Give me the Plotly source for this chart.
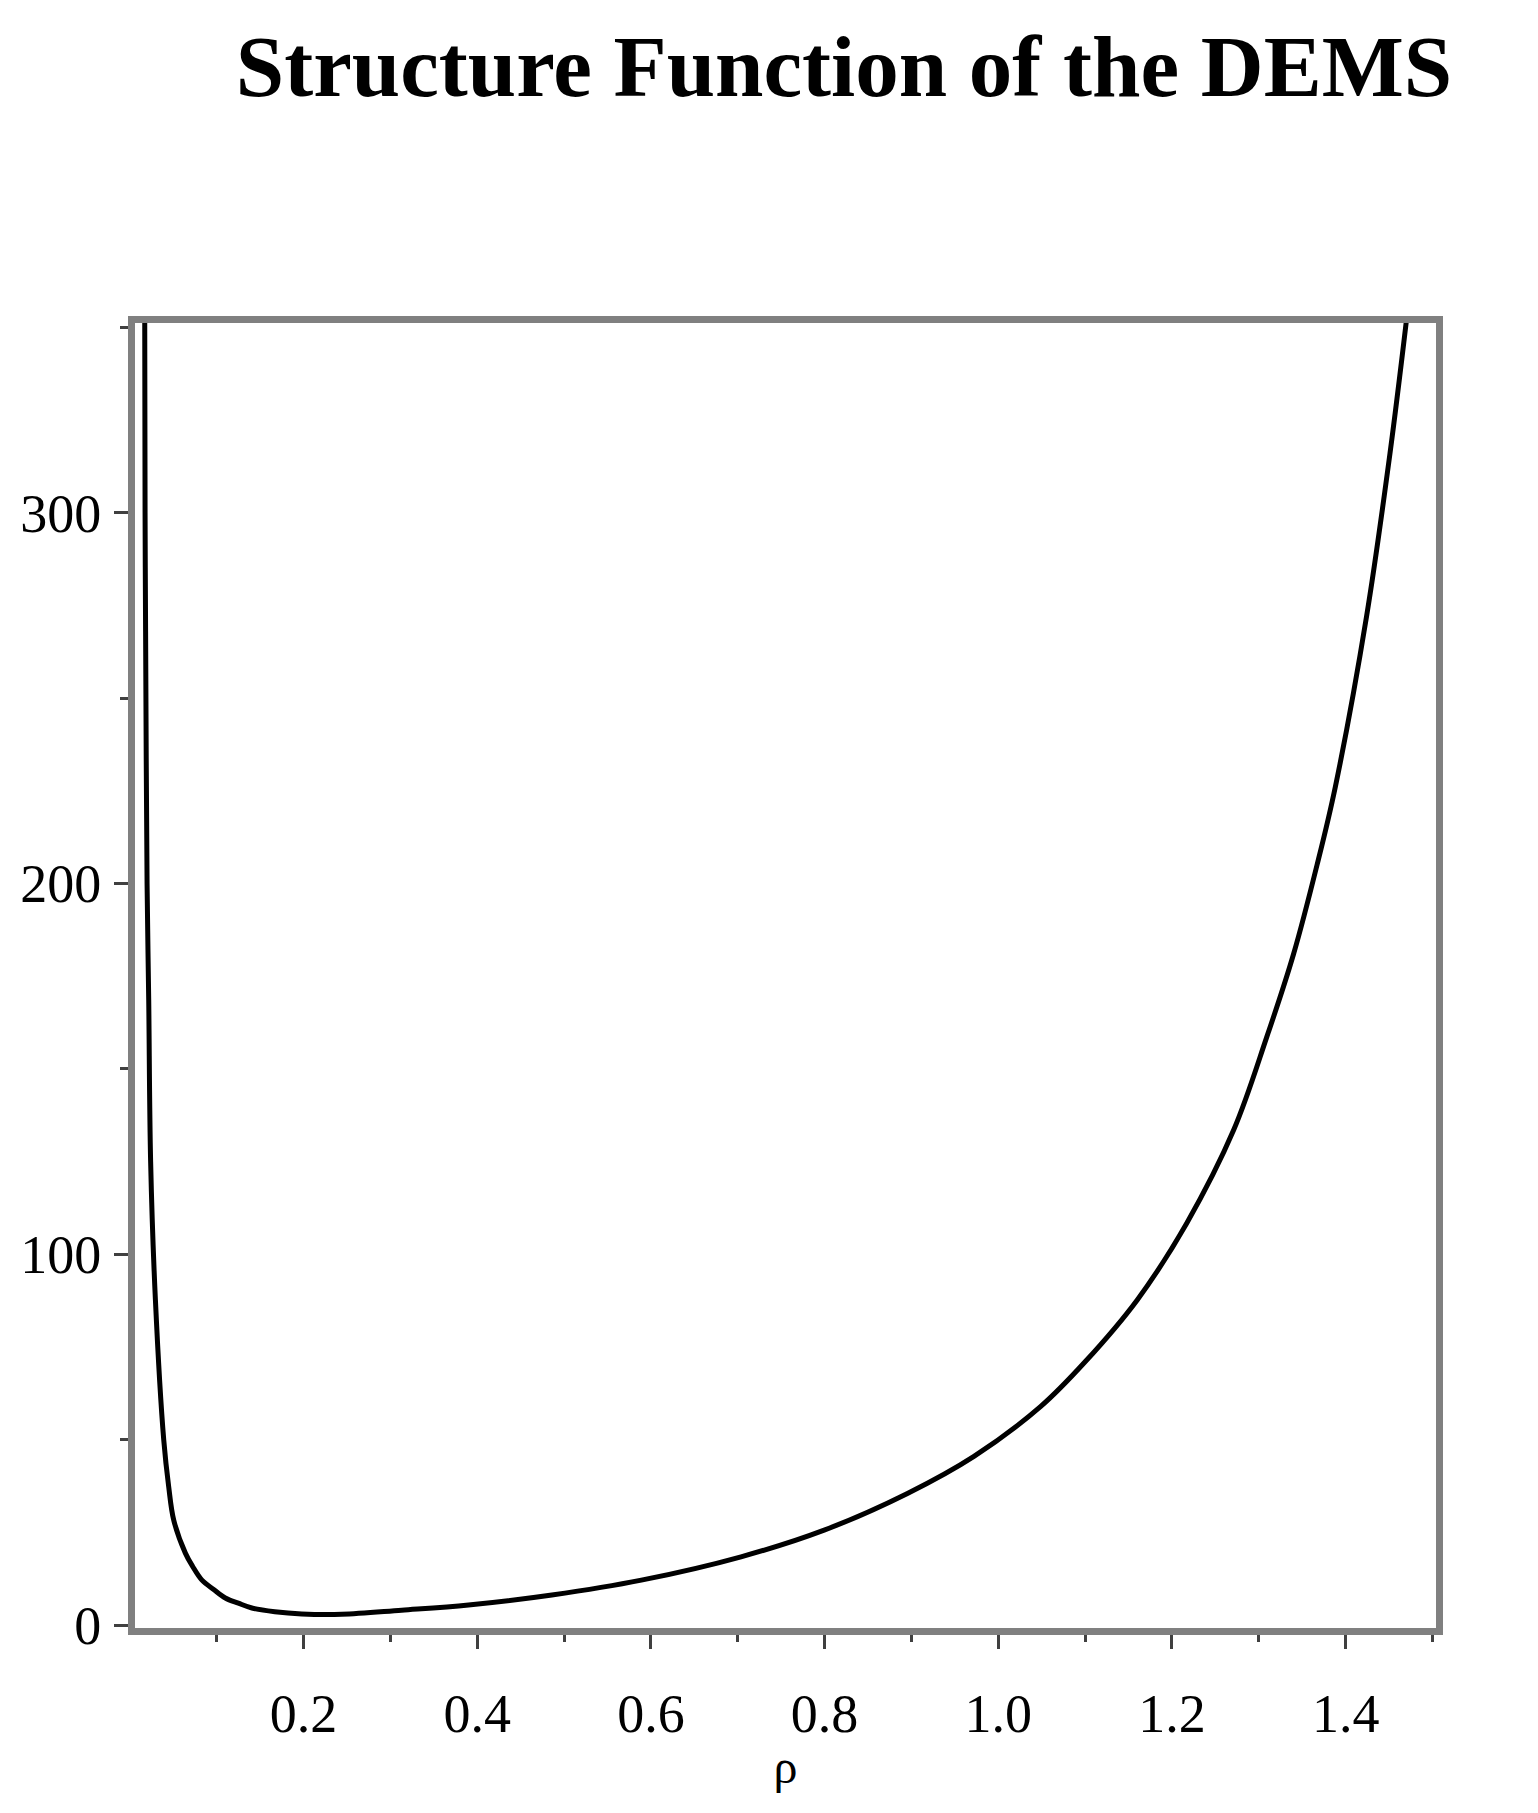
import plotly.graph_objects as go

# values (rho, structure function)
rho = [0.0172, 0.0176, 0.0182, 0.0199, 0.0218, 0.0240, 0.0295, 0.0391, 0.0448,
       0.0506, 0.0640, 0.0724, 0.0831, 0.0966, 0.110, 0.125, 0.1406, 0.167,
       0.198, 0.244, 0.313, 0.390, 0.486, 0.589, 0.7038, 0.7995, 0.8954,
       0.972, 1.0486, 1.10, 1.160, 1.217, 1.271, 1.309, 1.340, 1.367, 1.388,
       1.424, 1.451, 1.470]
S = [352, 300, 268, 200, 168.6, 125, 87.7, 49.9, 37.3,
     28.3, 19.4, 15.8, 12.1, 9.6, 7.3, 5.9, 4.6, 3.6,
     3.0, 2.9, 4.0, 5.4, 8.1, 12.1, 18.4, 25.6, 35.5,
     45.5, 58.9, 71.0, 87.7, 108.4, 133.5, 158.5, 181, 205, 226,
     272, 316, 352]

x_ticks = [0.2, 0.4, 0.6, 0.8, 1.0, 1.2, 1.4]
y_ticks = [0, 100, 200, 300]
x_range = [0.006, 1.504]

serif = "Liberation Serif"

fig = go.Figure()

fig.add_trace(go.Scatter(
    x=rho,
    y=S,
    mode='lines',
    line=dict(color='black', width=5, shape='spline', smoothing=1.0),
    showlegend=False
))

# empty trace so the label-only overlay axis gets drawn
fig.add_trace(go.Scatter(x=[], y=[], xaxis='x2', showlegend=False,
                         hoverinfo='skip'))

# page body adds an 8px offset, so the figure is 8px smaller than the window
fig.update_layout(
    width=1530,
    height=1805,
    margin=dict(l=125, r=102, t=315, b=185),
    paper_bgcolor='white',
    plot_bgcolor='white',
    title=dict(
        text='<b>Structure Function of the DEMS</b>',
        font=dict(family=serif, size=87, color='black'),
        x=0.5464, xanchor='center',
        y=0.9679, yanchor='middle'
    ),
    # main x axis: frame and tick marks only
    xaxis=dict(
        range=x_range,
        tickvals=x_ticks,
        showticklabels=False,
        ticks='outside', ticklen=14, tickwidth=3, tickcolor='#404040',
        minor=dict(dtick=0.1, tick0=0, ticks='outside', ticklen=7,
                   tickwidth=3, tickcolor='#404040'),
        showline=True, linecolor='#808080', linewidth=7, mirror=True,
        showgrid=False, zeroline=False,
        title=dict(text='ρ', font=dict(family=serif, size=48, color='black'),
                   standoff=104)
    ),
    # overlay x axis carrying the tick labels, with invisible ticks as spacer
    xaxis2=dict(
        overlaying='x', anchor='y', side='bottom',
        range=x_range,
        tickvals=x_ticks,
        ticktext=[f'{v:.1f}' for v in x_ticks],
        ticks='outside', ticklen=38, tickcolor='rgba(0,0,0,0)',
        showline=False, showgrid=False, zeroline=False,
        tickfont=dict(family=serif, size=54, color='black')
    ),
    yaxis=dict(
        range=[-0.8, 351.2],
        tickvals=y_ticks,
        ticks='outside', ticklen=14, tickwidth=3, tickcolor='#404040',
        minor=dict(dtick=50, tick0=0, ticks='outside', ticklen=8,
                   tickwidth=3, tickcolor='#404040'),
        showline=True, linecolor='#808080', linewidth=7, mirror=True,
        showgrid=False, zeroline=False,
        tickfont=dict(family=serif, size=54, color='black'),
        ticklabelstandoff=2
    )
)

fig.write_html("out.html")
